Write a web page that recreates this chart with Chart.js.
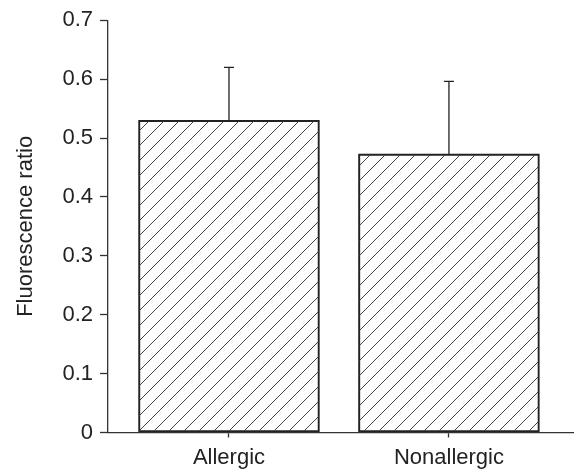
<!DOCTYPE html>
<html lang="en">
<head>
  <meta charset="utf-8">
  <title>Fluorescence ratio</title>
  <script src="https://cdn.jsdelivr.net/npm/chart.js"></script>
  <style>
    html, body { margin: 0; padding: 0; background: #fff; }
    #wrap { width: 575px; height: 472px; }
  </style>
</head>
<body>
  <div id="wrap"><canvas id="chart"></canvas></div>

  <script>
    // data
    const groups = ['Allergic', 'Nonallergic'];
    const ratios = [0.530, 0.473];
    const sds = [0.090, 0.123];
    const yTicks = [0, 0.1, 0.2, 0.3, 0.4, 0.5, 0.6, 0.7];

    // diagonal hatch fill
    function hatch() {
      const c = document.createElement('canvas');
      c.width = 15; c.height = 15;
      const g = c.getContext('2d');
      g.strokeStyle = '#444';
      g.lineWidth = 1;
      g.beginPath();
      g.moveTo(-2, 17); g.lineTo(17, -2);
      g.moveTo(-2, 2); g.lineTo(2, -2);
      g.moveTo(13, 17); g.lineTo(17, 13);
      g.stroke();
      return g.createPattern(c, 'repeat');
    }

    // upward error bars
    const errorBars = {
      id: 'errorBars',
      afterDatasetsDraw(chart) {
        const ctx = chart.ctx;
        const y = chart.scales.y;
        const meta = chart.getDatasetMeta(0);
        ctx.save();
        ctx.strokeStyle = '#222';
        ctx.lineWidth = 1.3;
        meta.data.forEach((bar, i) => {
          const top = y.getPixelForValue(ratios[i] + sds[i]);
          ctx.beginPath();
          ctx.moveTo(bar.x, bar.y);
          ctx.lineTo(bar.x, top);
          ctx.moveTo(bar.x - 5, top);
          ctx.lineTo(bar.x + 5, top);
          ctx.stroke();
        });
        ctx.restore();
      }
    };

    const font = { family: "'Liberation Sans', Arial, sans-serif", size: 22 };

    new Chart(document.getElementById('chart'), {
      type: 'bar',
      data: {
        datasets: [{
          data: groups.map((g, i) => ({ x: i, y: ratios[i] })),
          backgroundColor: hatch(),
          borderColor: '#222',
          borderWidth: 1.4,
          borderSkipped: false,
          barThickness: 181
        }]
      },
      options: {
        responsive: true,
        maintainAspectRatio: false,
        animation: false,
        layout: { padding: { top: 15, right: 2, left: 0, bottom: 0 } },
        plugins: { legend: { display: false }, tooltip: { enabled: false } },
        scales: {
          x: {
            type: 'linear',
            offset: false,
            min: -0.55,
            max: 1.564,
            afterBuildTicks: s => { s.ticks = groups.map((g, i) => ({ value: i })); },
            afterFit: s => { s.height = 39.5; },
            ticks: {
              callback: v => groups[v],
              font: font,
              color: '#222',
              padding: 7,
              maxRotation: 0
            },
            grid: { offset: false, drawOnChartArea: false, tickLength: 5, tickColor: '#333', tickWidth: 1.3 },
            border: { color: '#333', width: 1.3 }
          },
          y: {
            min: 0,
            max: 0.7,
            afterBuildTicks: s => { s.ticks = yTicks.map(v => ({ value: v })); },
            afterFit: s => { s.width = 108; },
            ticks: {
              callback: v => String(v),
              font: font,
              color: '#222',
              padding: 7
            },
            grid: { drawOnChartArea: false, tickLength: 8, tickColor: '#333', tickWidth: 1.3 },
            border: { color: '#333', width: 1.3 },
            title: {
              display: true,
              text: 'Fluorescence ratio',
              font: font,
              color: '#222',
              padding: { top: 13, bottom: 0 }
            }
          }
        }
      },
      plugins: [errorBars]
    });
  </script>
</body>
</html>
